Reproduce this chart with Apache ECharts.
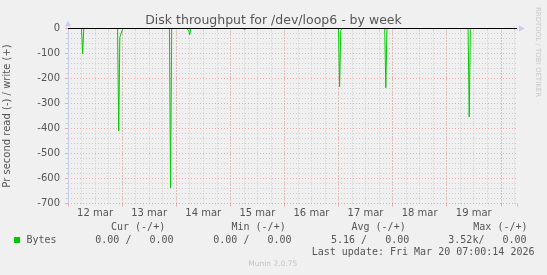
<!DOCTYPE html>
<html><head><meta charset="utf-8">
<script src="https://cdn.jsdelivr.net/npm/echarts@6/dist/echarts.min.js"></script>
<style>html,body{margin:0;padding:0;background:#f0f0f0}#c{width:547px;height:275px}</style>
</head><body><div id="c"></div>
<script>
// ---- data ----
const titleText = 'Disk throughput for /dev/loop6 - by week';
const yAxisTitle = 'Pr second read (-) / write (+)';
const axisStart = '03-12 00:00';
const axisEnd = '03-20 07:12';
const dayLabels = ['12 mar', '13 mar', '14 mar', '15 mar', '16 mar', '17 mar', '18 mar', '19 mar'];
const yMin = -700, yMax = 0, yStep = 100;
const readTimes = [
  '03-12 00:00', '03-12 06:00', '03-12 06:30', '03-12 07:00',
  '03-12 22:00', '03-12 22:30', '03-12 23:00', '03-12 23:30', '03-13 00:00', '03-13 00:30',
  '03-13 21:00', '03-13 21:30', '03-13 22:00',
  '03-14 04:30', '03-14 05:00', '03-14 05:30', '03-14 06:00', '03-14 06:30',
  '03-15 05:30', '03-15 06:00', '03-15 06:30', '03-15 07:00',
  '03-17 00:00', '03-17 00:30', '03-17 01:00', '03-17 01:30',
  '03-17 20:30', '03-17 21:00', '03-17 21:30',
  '03-19 09:30', '03-19 10:00', '03-19 10:30',
  '03-20 07:00'
];
const readValues = [
  0, 0, -100, 0,
  0, -410, -35, -32, -8, 0,
  0, -637, 0,
  0, -8, -6, -25, 0,
  0, -3, -3, 0,
  0, -233, -8, 0,
  0, -237, 0,
  0, -354, 0,
  0
];
const writeValues = readTimes.map(() => 0);
const seriesName = 'Bytes';
const statHeaders = ['Cur (-/+)', 'Min (-/+)', 'Avg (-/+)', 'Max (-/+)'];
const statValues = ['0.00 /   0.00', '0.00 /   0.00', '5.16 /   0.00', '3.52k/   0.00'];
const lastUpdate = 'Last update: Fri Mar 20 07:00:14 2026';
const footer = 'Munin 2.0.75';
const watermark = 'RRDTOOL / TOBI OETIKER';

// ---- helpers ----
function hoursOf(s) {
  const [md, hm] = s.split(' ');
  const [mo, d] = md.split('-').map(Number);
  const [h, m] = hm.split(':').map(Number);
  return (d - 12) * 24 + h + m / 60;
}
const xMin = hoursOf(axisStart), xMax = hoursOf(axisEnd);
// Read series: baseline (0 -> 0) stretches are split off with a gap; they lie under the black zero rule anyway
const readData = [];
readTimes.forEach((t, i) => {
  if (i > 0 && readValues[i] === 0 && readValues[i - 1] === 0) readData.push([hoursOf(t), null]);
  readData.push([hoursOf(t), readValues[i]]);
});
const writeData = readTimes.map((t, i) => [hoursOf(t), writeValues[i]]);
const labelHours = dayLabels.map((_, i) => i * 24 + 12);

const RED = 'rgba(235,130,130,0.65)';
const GRAY = 'rgba(195,195,195,0.8)';
const AXIS = '#c9ccef';
const TXT = '#555';
const MONO = '10px "DejaVu Sans Mono", monospace';

const chart = echarts.init(document.getElementById('c'), null, {renderer: 'canvas'});
const common = {type: 'value', min: xMin, max: xMax, gridIndex: 0, position: 'bottom', offset: 0};
const option = {
  backgroundColor: '#f0f0f0',
  animation: false,
  title: {
    text: titleText, left: 'center', top: 9,
    textStyle: {fontFamily: 'DejaVu Sans', fontSize: 12.5, fontWeight: 'normal', color: TXT}
  },
  grid: {left: 68, right: 30, top: 28.5, bottom: 71.5, containLabel: false, outerBoundsMode: 'none'},
  xAxis: [
    Object.assign({}, common, {
      interval: 6,
      axisLine: {show: true, lineStyle: {color: AXIS, width: 1}, symbol: ['none', 'triangle'], symbolSize: [6, 6], symbolOffset: [0, 5]},
      axisTick: {show: true, length: 2, lineStyle: {color: GRAY}},
      axisLabel: {show: false},
      splitLine: {show: true, showMinLine: false, showMaxLine: false, lineStyle: {color: GRAY, type: [1, 2], width: 1}}
    }),
    Object.assign({}, common, {
      interval: 24,
      axisLine: {show: false},
      axisTick: {show: true, length: 3, lineStyle: {color: RED}},
      axisLabel: {show: false},
      splitLine: {show: true, showMaxLine: false, lineStyle: {color: RED, type: [1, 2], width: 1}}
    }),
    Object.assign({}, common, {
      axisLine: {show: false},
      axisTick: {show: false},
      splitLine: {show: false},
      axisLabel: {
        show: true, customValues: labelHours, margin: 5,
        fontFamily: 'DejaVu Sans', fontSize: 10, color: TXT,
        formatter: v => dayLabels[Math.round((v - 12) / 24)] || ''
      }
    })
  ],
  yAxis: {
    type: 'value', min: yMin, max: yMax, interval: yStep,
    name: yAxisTitle, nameLocation: 'middle', nameGap: 56, nameRotate: 90,
    nameTextStyle: {fontFamily: 'DejaVu Sans', fontSize: 10, color: TXT},
    axisLine: {show: true, lineStyle: {color: AXIS}, symbol: ['none', 'triangle'], symbolSize: [6, 6], symbolOffset: [0, 5]},
    axisTick: {show: true, length: 3, lineStyle: {color: RED}},
    minorTick: {show: true, splitNumber: 5, length: 2, lineStyle: {color: GRAY}},
    axisLabel: {fontFamily: 'DejaVu Sans', fontSize: 10, color: TXT, margin: 8},
    splitLine: {show: true, lineStyle: {color: RED, type: [1, 2], width: 1}},
    minorSplitLine: {show: true, lineStyle: {color: GRAY, type: [1, 2], width: 1}}
  },
  series: [
    {
      name: seriesName + ' write', type: 'line', xAxisIndex: 0, data: writeData,
      showSymbol: false, lineStyle: {color: '#00cc00', width: 1}, z: 3
    },
    {
      name: seriesName, type: 'line', xAxisIndex: 0, data: readData, connectNulls: false,
      showSymbol: false, lineStyle: {color: '#00cc00', width: 1}, z: 4
    },
    {
      name: 'zero', type: 'line', xAxisIndex: 0, data: [], z: 10,
      markLine: {
        silent: true, symbol: ['none', 'none'], label: {show: false},
        lineStyle: {color: '#000', type: 'solid', width: 1},
        data: [{yAxis: 0}]
      }
    }
  ],
  graphic: [
    {type: 'rect', shape: {x: 14, y: 237, width: 6, height: 6}, style: {fill: '#00cc00'}},
    {type: 'text', style: {text: seriesName, x: 26.5, y: 240, font: MONO, fill: TXT, verticalAlign: 'middle'}},
    {type: 'text', style: {text: statHeaders[0], x: 111, y: 227.5, font: MONO, fill: TXT, verticalAlign: 'middle'}},
    {type: 'text', style: {text: statHeaders[1], x: 231.5, y: 227.5, font: MONO, fill: TXT, verticalAlign: 'middle'}},
    {type: 'text', style: {text: statHeaders[2], x: 351.5, y: 227.5, font: MONO, fill: TXT, verticalAlign: 'middle'}},
    {type: 'text', style: {text: statHeaders[3], x: 473.3, y: 227.5, font: MONO, fill: TXT, verticalAlign: 'middle'}},
    {type: 'text', style: {text: statValues[0], x: 95.3, y: 240, font: MONO, fill: TXT, verticalAlign: 'middle'}},
    {type: 'text', style: {text: statValues[1], x: 213.3, y: 240, font: MONO, fill: TXT, verticalAlign: 'middle'}},
    {type: 'text', style: {text: statValues[2], x: 331, y: 240, font: MONO, fill: TXT, verticalAlign: 'middle'}},
    {type: 'text', style: {text: statValues[3], x: 448.3, y: 240, font: MONO, fill: TXT, verticalAlign: 'middle'}},
    {type: 'text', style: {text: lastUpdate, x: 311.7, y: 252, font: MONO, fill: TXT, verticalAlign: 'middle'}},
    {type: 'text', style: {text: footer, x: 272.8, y: 264.5, font: '7.5px "DejaVu Sans", sans-serif', fill: '#c4c4c4', align: 'center', verticalAlign: 'middle'}},
    {type: 'text', x: 538, y: 52, rotation: -Math.PI / 2,
      style: {text: watermark, x: 0, y: 0, font: '7px "DejaVu Sans", sans-serif', fill: '#c8c8c8', align: 'center', verticalAlign: 'middle'}}
  ]
};
chart.setOption(option);
</script>
</body></html>
